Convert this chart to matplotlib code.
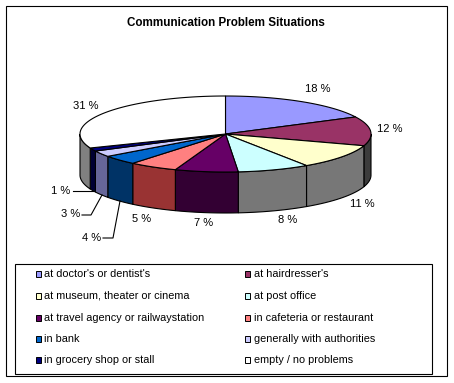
"""Communication Problem Situations: Excel style 3D pie, rebuilt on a pixel grid."""

import matplotlib
matplotlib.use("Agg")
import matplotlib.pyplot as plt
import numpy as np
from matplotlib.patches import Rectangle

WIDTH = 454
HEIGHT = 383

TITLE = "Communication Problem Situations"
CATEGORIES = [
    "at doctor's or dentist's", "at hairdresser's",
    "at museum, theater or cinema", "at post office",
    "at travel agency or railwaystation", "in cafeteria or restaurant",
    "in bank", "generally with authorities",
    "in grocery shop or stall", "empty / no problems",
]
# labels are rounded, the decimals are estimated from where the slices end
VALUES = [17.6, 12.4, 10.6, 8.0, 7.0, 5.4, 4.0, 2.6, 1.4, 31.0]
TOP_COLORS = ["#9999FF", "#993366", "#FFFFCC", "#CCFFFF", "#660066",
              "#FF8080", "#0066CC", "#CCCCFF", "#000080", "#FFFFFF"]
SIDE_COLORS = ["#4C4C80", "#3C3C3C", "#777777", "#777777", "#330033",
               "#993333", "#003366", "#666699", "#000033", "#808080"]
LABEL_POS = [(318, 89), (390, 129), (362, 204), (288, 220), (204, 223),
             (142, 219), (92, 238), (71, 214), (61, 191), (86, 106)]
LEADERS = [
    [(103, 238), (113, 238), (120, 201)],
    [(82, 215), (91, 215), (102, 195)],
    [(73, 191), (93, 191)],
]

CX, CY = 225.5, 134
RX, RY = 145.5, 38
DEPTH = 41
LINE_W = 0.8

plt.rcParams["font.family"] = ["Liberation Sans", "DejaVu Sans"]
fig = plt.figure(figsize=(WIDTH / 100, HEIGHT / 100), dpi=100, facecolor="white")
ax = fig.add_axes([0, 0, 1, 1])
ax.set_xlim(0, WIDTH)
ax.set_ylim(HEIGHT, 0)
ax.set_axis_off()


def rim(t):
    return CX + RX * np.sin(t), CY - RY * np.cos(t)


ax.add_patch(Rectangle((5.5, 5.5), 441, 370.5, fc="white", ec="black", lw=LINE_W, zorder=0))

# slices run clockwise from 12 o'clock
edges = np.cumsum([0] + VALUES) / sum(VALUES) * 2 * np.pi

# walls first, only the front half of the rim shows
for start, end, side in zip(edges[:-1], edges[1:], SIDE_COLORS):
    lo, hi = max(start, np.pi / 2), min(end, 3 * np.pi / 2)
    if lo >= hi:
        continue
    t = np.linspace(lo, hi, 60)
    x, y = rim(t)
    px = np.concatenate([x, x[::-1]])
    py = np.concatenate([y, y[::-1] + DEPTH])
    ax.fill(px, py, fc=side, ec="black", lw=LINE_W, zorder=1)

for start, end, top in zip(edges[:-1], edges[1:], TOP_COLORS):
    t = np.linspace(start, end, 120)
    x, y = rim(t)
    ax.fill(np.r_[CX, x], np.r_[CY, y], fc=top, ec="black", lw=LINE_W, zorder=2)

for pts in LEADERS:
    ax.plot(*zip(*pts), color="black", lw=LINE_W, zorder=3)

for val, (lx, ly) in zip(VALUES, LABEL_POS):
    ax.text(lx, ly, f"{round(val)} %", ha="center", va="center", fontsize=8, color="black", zorder=4)

ax.text(226, 23.5, TITLE, ha="center", va="center", fontsize=8.4, fontweight="bold", color="black")

# legend box
ax.add_patch(Rectangle((14.5, 263.5), 417, 110, fc="white", ec="black", lw=LINE_W, zorder=1))
rows = [274, 296, 318, 339, 360]
cols = [35.5, 244.5]
for i, (name, color) in enumerate(zip(CATEGORIES, TOP_COLORS)):
    x0 = cols[i % 2]
    y0 = rows[i // 2]
    ax.add_patch(Rectangle((x0, y0 - 3), 5.5, 5.5, fc=color, ec="black", lw=0.7, zorder=2))
    ax.text(x0 + 9, y0, name, ha="left", va="center", fontsize=7.8, color="black", zorder=3)

fig.savefig("out.png", dpi=100, facecolor="white")
